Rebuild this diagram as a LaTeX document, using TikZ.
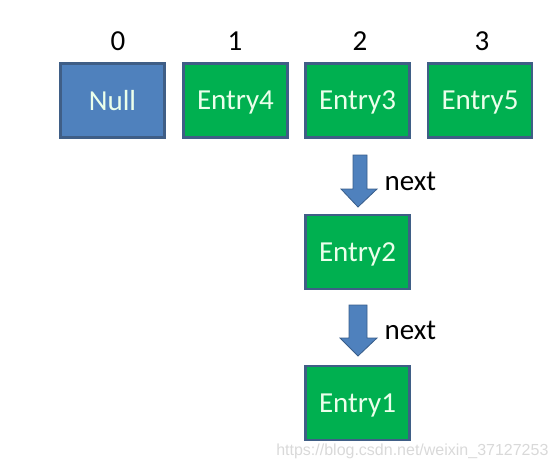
\documentclass[tikz,border=0pt]{standalone}
\usepackage{fontspec}
\setmainfont{Carlito}
\newfontfamily\wmfont{Liberation Sans}
\usetikzlibrary{calc}
\definecolor{boxgreen}{HTML}{00B050}
\definecolor{boxblue}{HTML}{4F81BD}
\definecolor{edgeblue}{HTML}{3F5E86}
\definecolor{arrowedge}{HTML}{385D8A}
\tikzset{
  cell/.style={draw=edgeblue, line width=2.6pt, minimum width=104pt, minimum height=74pt,
    inner sep=0pt, text=white!92!green, font=\fontsize{29}{32}\selectfont, text depth=0pt},
  gcell/.style={cell, fill=boxgreen},
  bcell/.style={cell, fill=boxblue},
  idx/.style={font=\fontsize{29}{32}\selectfont, text=black},
  nextlbl/.style={font=\fontsize{29}{32}\selectfont, text=black, anchor=west},
  fatarrow/.style={fill=boxblue, draw=arrowedge, line width=0.8pt}
}
\begin{document}
\begin{tikzpicture}[x=1pt,y=-1pt]
\useasboundingbox (0,0) rectangle (559,468);
\node[bcell] (n0) at (112.5,100.5) {Null};
\node[gcell] (n1) at (235.5,100.5) {Entry4};
\node[gcell] (n2) at (357.5,100.5) {Entry3};
\node[gcell] (n3) at (480,100.5) {Entry5};
\node[gcell] (e2) at (357.5,252) {Entry2};
\node[gcell] (e1) at (357.5,403) {Entry1};
\node[idx] (i0) at (118,41) {0};
\node[idx] (i1) at (235,41) {1};
\node[idx] (i2) at (360,41) {2};
\node[idx] (i3) at (482,41) {3};
% arrow 1
\coordinate (a1top) at (360,155);
\coordinate (a1tip) at (358,207);
\draw[fatarrow] ($(a1top)+(-7,0)$) -- ($(a1top)+(7,0)$) -- ($(a1top)+(7,34)$) -- ($(a1top)+(17,34)$)
  -- (a1tip) -- ($(a1top)+(-19,34)$) -- ($(a1top)+(-7,34)$) -- cycle;
\node[nextlbl] (l1) at (381,181) {next};
% arrow 2
\coordinate (a2top) at (358,305);
\coordinate (a2tip) at (358,356);
\draw[fatarrow] ($(a2top)+(-9,0)$) -- ($(a2top)+(9,0)$) -- ($(a2top)+(9,33)$) -- ($(a2top)+(19,33)$)
  -- (a2tip) -- ($(a2top)+(-18,33)$) -- ($(a2top)+(-9,33)$) -- cycle;
\node[nextlbl] (l2) at (381,330) {next};
\node[font=\fontsize{16}{19}\selectfont\wmfont, text=black!15, anchor=east] (wm) at (552,451) {https://blog.csdn.net/weixin\_37127253};
\end{tikzpicture}
\end{document}
